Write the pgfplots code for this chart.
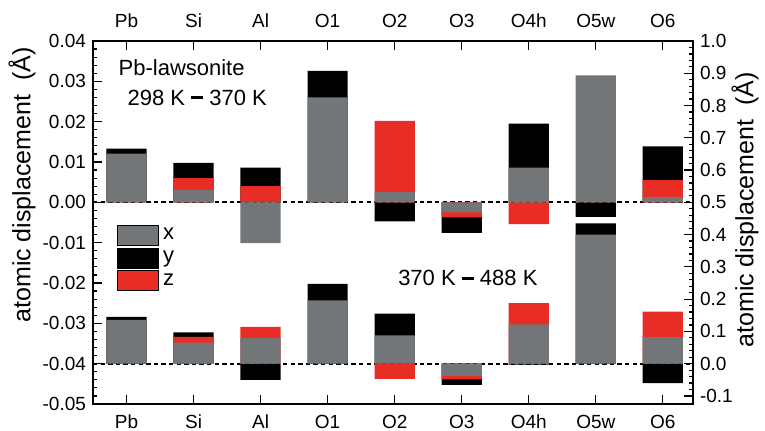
\documentclass[border=0pt]{standalone}
\usepackage{fontspec}
\setmainfont{Liberation Sans}
\usepackage{pgfplots}
\usepackage{pgfplotstable}
\pgfplotsset{compat=1.18}
\definecolor{cx}{HTML}{737678}
\definecolor{cy}{HTML}{000000}
\definecolor{cz}{HTML}{E82D27}

% outer edge of each colour segment (upper set, left axis, Angstrom)
\pgfplotstableread{
cat ytop ztop xtop
0  0.0133  0.0000  0.0121
1  0.0098  0.0060  0.0031
2  0.0086  0.0040 -0.0101
3  0.0326  0.0000  0.0260
4 -0.0047  0.0202  0.0026
5 -0.0076 -0.0037 -0.0025
6  0.0195 -0.0054  0.0086
7 -0.0036  0.0000  0.0315
8  0.0139  0.0055  0.0013
}\tabupper
% lower set, right axis
\pgfplotstableread{
cat ytop ztop xtop
0  0.145  0.000  0.136
1  0.097  0.083  0.065
2 -0.050  0.114  0.079
3  0.247  0.000  0.196
4  0.155 -0.047  0.088
5 -0.066 -0.049 -0.038
6 -0.003  0.188  0.122
7  0.435  0.000  0.400
8 -0.060  0.161  0.082
}\tablower

\pgfplotsset{
  common/.style={
    ybar, bar width=0.6, bar shift=0pt,
    scale only axis, width=300pt, height=181.5pt,
    xmin=-0.5, xmax=8.45,
    xtick={0,1,2,3,4,5,6,7,8},
    xticklabels={Pb,Si,Al,O1,O2,O3,O4h,O5w,O6},
    tick align=inside, xtick align=inside, ytick align=inside,
    scaled y ticks=false,
    tick label style={font=\fontsize{9.5}{11}\selectfont},
    axis line style={line width=0.8pt},
    every tick/.style={black, line width=0.6pt},
    major tick length=4.5pt, minor tick length=2.2pt,
    minor y tick num=4,
    /pgf/number format/assume math mode=true,
  },
  segbar/.style={fill=#1, draw=none, forget plot},
}

\begin{document}
\begin{tikzpicture}
\path[use as bounding box] (-46.5pt,-13pt) rectangle (336pt,202pt);

\begin{axis}[common,
  ymin=-0.05, ymax=0.04,
  ytick={-0.05,-0.04,-0.03,-0.02,-0.01,0,0.01,0.02,0.03,0.04},
  yticklabels={-0.05,-0.04,-0.03,-0.02,-0.01,0.00,0.01,0.02,0.03,0.04},
  ytick pos=left, yticklabel pos=left,
  xtick pos=left, xticklabel pos=left,
  xticklabel style={anchor=base, yshift=-12pt},
  legend cell align=left,
  legend image code/.code={\fill[#1] (0pt,-5pt) rectangle (20.5pt,5pt);},
  legend style={draw=none, fill=none, at={(rel axis cs:0.04,0.495)}, anchor=north west,
    font=\fontsize{11}{12}\selectfont, row sep=1pt, inner sep=0pt,
    nodes={inner xsep=2pt, inner ysep=0.5pt}},
]
\addplot[sharp plot, black, line width=0.9pt, dash pattern=on 2.2pt off 1.6pt, forget plot] coordinates {(-0.5,0) (8.45,0)};
\addplot[segbar=cy] table[x=cat, y=ytop] {\tabupper};
\addplot[segbar=cz] table[x=cat, y=ztop] {\tabupper};
\addplot[segbar=cx] table[x=cat, y=xtop] {\tabupper};
\addlegendimage{fill=cx}
\addlegendentry{x}
\addlegendimage{fill=cy}
\addlegendentry{y}
\addlegendimage{fill=cz}
\addlegendentry{z}
\node[anchor=west, font=\fontsize{11}{13}\selectfont] at (rel axis cs:0.031,0.926) {Pb-lawsonite};
\node[anchor=west, font=\fontsize{11}{13}\selectfont] at (rel axis cs:0.046,0.844) {298 K \rule[2.9pt]{6pt}{1.5pt} 370 K};
\node[anchor=west, font=\fontsize{11}{13}\selectfont] at (rel axis cs:0.497,0.347) {370 K \rule[2.9pt]{6pt}{1.5pt} 488 K};
\end{axis}

\begin{axis}[common,
  ymin=-0.125, ymax=1.0,
  ytick={-0.1,0,0.1,0.2,0.3,0.4,0.5,0.6,0.7,0.8,0.9,1.0},
  yticklabels={-0.1,0.0,0.1,0.2,0.3,0.4,0.5,0.6,0.7,0.8,0.9,1.0},
  ytick pos=right, yticklabel pos=right,
  xtick pos=right, xticklabel pos=right,
  xticklabel style={anchor=base, yshift=7pt},
]
\addplot[sharp plot, black, line width=0.9pt, dash pattern=on 2.2pt off 1.6pt] coordinates {(-0.5,0) (8.45,0)};
\addplot[segbar=cy] table[x=cat, y=ytop] {\tablower};
\addplot[segbar=cz] table[x=cat, y=ztop] {\tablower};
\addplot[segbar=cx] table[x=cat, y=xtop] {\tablower};
\end{axis}

\node[rotate=90, font=\fontsize{12.5}{14}\selectfont] at (-35.5pt,109.5pt) {atomic displacement\ \ (Å)};
\node[rotate=90, font=\fontsize{12.5}{14}\selectfont] at (326pt,97pt) {atomic displacement\ \ (Å)};
\end{tikzpicture}
\end{document}
